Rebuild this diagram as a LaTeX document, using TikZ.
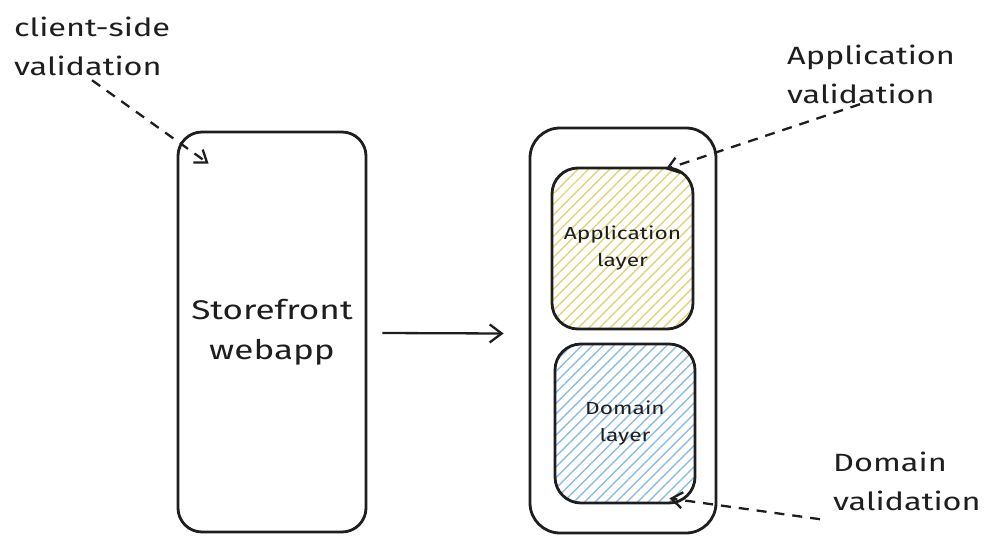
\documentclass[tikz,border=0pt]{standalone}
\usepackage{fontspec}
\setmainfont[FakeStretch=1.3]{Fira Sans}
\usetikzlibrary{arrows.meta,patterns.meta,calc}
\definecolor{inkc}{HTML}{1E1E1E}
\definecolor{apphatch}{HTML}{E0D47A}
\definecolor{domhatch}{HTML}{8FBCE6}
\tikzset{
  x=1pt, y=-1pt,
  box/.style={draw=inkc, line width=2.8pt, rounded corners=#1},
  box/.default=26pt,
  bigtext/.style={font=\fontsize{27}{40}\selectfont, text=inkc, align=center},
  smalltext/.style={font=\fontsize{17.5}{27}\selectfont, text=inkc, align=center},
  note/.style={font=\fontsize{25}{39}\selectfont, text=inkc, align=left, inner sep=0pt},
  flow/.style={draw=inkc, line width=2.3pt, -{Straight Barb[length=12pt,width=18pt,line width=2.3pt]}},
  hint/.style={draw=inkc, line width=2.3pt, dash pattern=on 10pt off 8pt,
    -{Straight Barb[length=11pt,width=16pt,line width=2.3pt]}},
  hatch/.style={pattern={Lines[angle=45,distance=7.5pt,line width=1.4pt]}, pattern color=#1}
}
\begin{document}
\begin{tikzpicture}
\useasboundingbox (0,0) rectangle (987,535);

% storefront client
\node[box=24pt, minimum width=188pt, minimum height=400pt, bigtext] (sf) at (272,332)
  {Storefront\\webapp};

% backend with its two layers
\node[box=30pt, minimum width=186pt, minimum height=405pt] (be) at (623,330.5) {};
\node[box=26pt, hatch=apphatch, minimum width=141pt, minimum height=161pt, smalltext]
  (app) at (622.5,248.5) {Application\\layer};
\node[box=26pt, hatch=domhatch, minimum width=140pt, minimum height=159pt, smalltext]
  (dom) at (625,423.5) {Domain\\layer};

% request flow
\draw[flow] ($(sf.east)+(15,1)$) -- ($(be.west)+(-25,3)$);

% validation notes
\node[note, anchor=north west] (cs) at (14,17) {client-side\\validation};
\node[note, anchor=north west] (av) at (787,45) {Application\\validation};
\node[note, anchor=north west] (dv) at (833,452) {Domain\\validation};

\draw[hint] ($(cs.south west)+(78,4)$) -- ($(sf.north west)+(32,33)$);
\draw[hint] ($(av.south west)+(73,0)$) -- ($(app.north east)+(-28,2)$);
\draw[hint] ($(dv.south west)+(-13,8)$) -- ($(dom.south east)+(-27,-6)$);
\end{tikzpicture}
\end{document}
